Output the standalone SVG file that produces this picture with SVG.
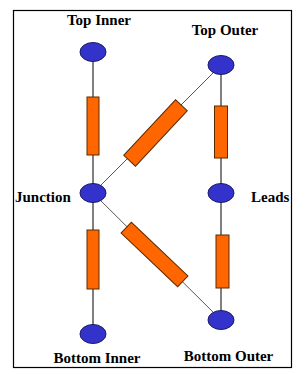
<svg xmlns="http://www.w3.org/2000/svg" width="306" height="374" viewBox="0 0 306 374">
<style>
.bg{fill:#fff}
.frame{fill:none;stroke:#000;stroke-width:1.2}
.node{fill:#3333CC;stroke:#1a1a66;stroke-width:1}
.res{fill:#FF6600;stroke:#5a2a00;stroke-width:1}
.wire{stroke:#000;stroke-width:1;fill:none}
.dwire{stroke:#444;stroke-width:0.9;fill:none}
.lbl{font-family:"Liberation Serif","Times New Roman",serif;font-weight:bold;font-size:15px;fill:#000}
</style>
<rect class="bg" x="0" y="0" width="306" height="374"/>
<rect class="frame" x="13.5" y="10.5" width="278" height="357"/>
<g id="connectors">
<line class="wire" x1="93" y1="52" x2="93" y2="334"/>
<line class="wire" x1="221" y1="65" x2="221" y2="320"/>
<line class="dwire" x1="93" y1="193" x2="221" y2="65"/>
<line class="dwire" x1="93" y1="193" x2="221" y2="320"/>
<rect class="res" x="87" y="97" width="12" height="58"/>
<rect class="res" x="214.5" y="106" width="13" height="52"/>
<rect class="res" x="87" y="230" width="12" height="59"/>
<rect class="res" x="216" y="235" width="13" height="53"/>
<rect class="res" x="-38" y="-8" width="76" height="16" transform="translate(155.5,133) rotate(-47)"/>
<rect class="res" x="-39" y="-7.5" width="78" height="15" transform="translate(154.5,254.5) rotate(43.5)"/>
</g>
<g id="top-inner">
<ellipse class="node" cx="93" cy="52" rx="13" ry="9.5"/>
<text class="lbl" x="99" y="25" text-anchor="middle">Top Inner</text>
</g>
<g id="top-outer">
<ellipse class="node" cx="221" cy="65" rx="13" ry="9.5"/>
<text class="lbl" x="225" y="35" text-anchor="middle">Top Outer</text>
</g>
<g id="junction">
<ellipse class="node" cx="93" cy="193" rx="13" ry="9.5"/>
<text class="lbl" x="15" y="202">Junction</text>
</g>
<g id="leads">
<ellipse class="node" cx="221" cy="193" rx="13" ry="9.5"/>
<text class="lbl" x="251" y="202">Leads</text>
</g>
<g id="bottom-inner">
<ellipse class="node" cx="93" cy="334" rx="13" ry="9.5"/>
<text class="lbl" x="97" y="363" text-anchor="middle">Bottom Inner</text>
</g>
<g id="bottom-outer">
<ellipse class="node" cx="221" cy="320" rx="13" ry="9.5"/>
<text class="lbl" x="228.5" y="361" text-anchor="middle">Bottom Outer</text>
</g>
</svg>
